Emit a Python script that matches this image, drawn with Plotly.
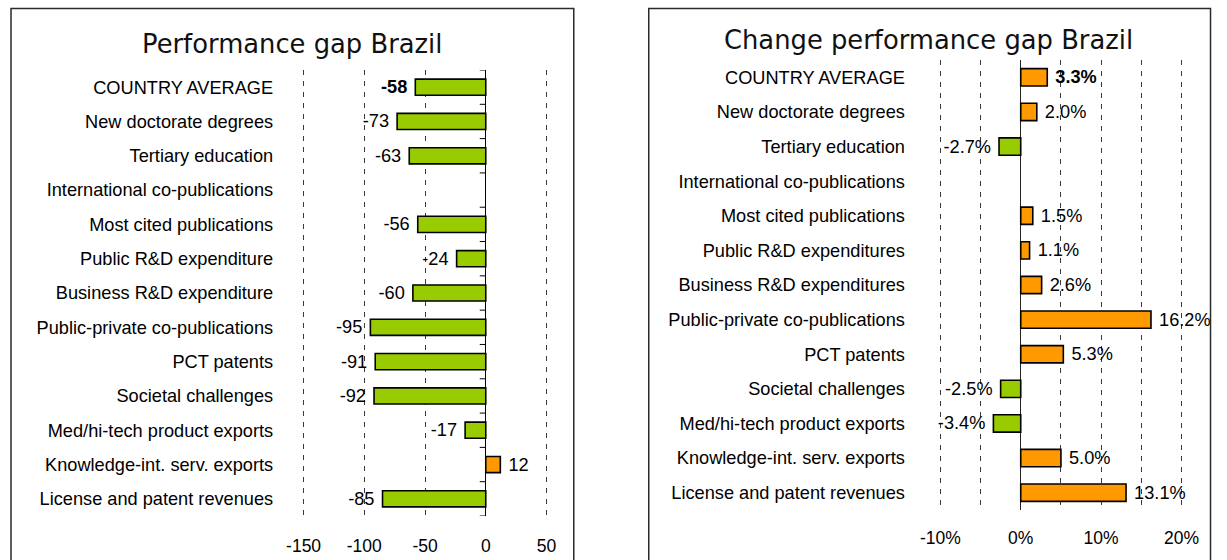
import plotly.graph_objects as go

# ---------------- data ----------------
cats_left = ["COUNTRY AVERAGE", "New doctorate degrees", "Tertiary education",
             "International co-publications", "Most cited publications",
             "Public R&D expenditure", "Business R&D expenditure",
             "Public-private co-publications", "PCT patents", "Societal challenges",
             "Med/hi-tech product exports", "Knowledge-int. serv. exports",
             "License and patent revenues"]
gap_values = [-58, -73, -63, None, -56, -24, -60, -95, -91, -92, -17, 12, -85]

cats_right = ["COUNTRY AVERAGE", "New doctorate degrees", "Tertiary education",
              "International co-publications", "Most cited publications",
              "Public R&D expenditures", "Business R&D expenditures",
              "Public-private co-publications", "PCT patents", "Societal challenges",
              "Med/hi-tech product exports", "Knowledge-int. serv. exports",
              "License and patent revenues"]
change_values = [3.3, 2.0, -2.7, None, 1.5, 1.1, 2.6, 16.2, 5.3, -2.5, -3.4, 5.0, 13.1]

left_tickvals = [-150, -100, -50, 0, 50]
left_ticktext = ["-150", "-100", "-50", "0", "50"]
right_tickvals = [-10, -5, 0, 5, 10, 15, 20]
right_ticktext = ["-10%", "", "0%", "", "10%", "", "20%"]

# ---------------- style ----------------
GREEN = "#99CC00"
ORANGE = "#FF9900"
FONT = "Liberation Sans"
GRID = "#3a3a3a"
NB = "\u00a0"

W, H = 1227, 560
SX = 0.9735              # horizontal squeeze observed in the capture
OX = 17.0


def px_x(ref):
    return (ref - OX) / SX / W


def px_y(ref):
    return 1 - ref / H


FS_LABEL = 18.2
FS_TICK = 17.5
FS_TITLE = 25.8


def colors(vals):
    return [ORANGE if (v is not None and v > 0) else GREEN for v in vals]


def pad(s, v):
    return (NB + s) if v > 0 else (s + NB)


def make_text(vals, fmt):
    out = []
    for i, v in enumerate(vals):
        if v is None:
            out.append("")
        else:
            s = fmt(v)
            s = f"<b>{s}</b>" if i == 0 else s
            out.append(pad(s, v))
    return out


fig = go.Figure()
fig.add_trace(go.Bar(
    x=gap_values, y=cats_left, orientation="h", xaxis="x", yaxis="y",
    marker=dict(color=colors(gap_values), line=dict(color="black", width=1.6)),
    width=0.47, text=make_text(gap_values, lambda v: f"{v:d}"), textposition="outside",
    constraintext="none", cliponaxis=False,
    textfont=dict(family=FONT, size=FS_LABEL, color="black"), showlegend=False,
    hoverinfo="x+y"))
fig.add_trace(go.Bar(
    x=change_values, y=cats_right, orientation="h", xaxis="x2", yaxis="y2",
    marker=dict(color=colors(change_values), line=dict(color="black", width=1.6)),
    width=0.5, text=make_text(change_values, lambda v: f"{v:.1f}%"), textposition="outside",
    constraintext="none", cliponaxis=False,
    textfont=dict(family=FONT, size=FS_LABEL, color="black"), showlegend=False,
    hoverinfo="x+y"))

ycommon = dict(showline=False, ticks="", showgrid=False, zeroline=False, type="category",
               range=[12.5, -0.5], tickfont=dict(family=FONT, size=FS_LABEL, color="black"))
xcommon = dict(showline=False, ticks="", ticklen=0, tickmode="array",
               showgrid=True, gridcolor=GRID, gridwidth=1, griddash="5px,6px",
               zeroline=True, zerolinewidth=1.2,
               tickfont=dict(family=FONT, size=FS_TICK, color="black"))

fig.update_layout(
    width=W, height=H, margin=dict(l=0, r=0, t=0, b=0),
    paper_bgcolor="white", plot_bgcolor="white",
    xaxis=dict(domain=[px_x(300.27), px_x(548.13)], anchor="y", range=[-152, 52],
               tickvals=left_tickvals, ticktext=left_ticktext, ticklabelstandoff=17,
               zerolinecolor="black", **xcommon),
    yaxis=dict(domain=[px_y(516), px_y(70)], anchor="x", ticklabelstandoff=27, **ycommon),
    xaxis2=dict(domain=[px_x(937.3), px_x(1183.4)], anchor="y2", range=[-10.3, 20.3],
                tickvals=right_tickvals, ticktext=right_ticktext, ticklabelstandoff=15,
                zerolinecolor="#222222", **xcommon),
    yaxis2=dict(domain=[px_y(510), px_y(60)], anchor="x2", ticklabelstandoff=32, **ycommon),
)

shapes = []
# panel frames
for x0, x1 in [(10, 573), (648, 1210)]:
    shapes.append(dict(type="rect", xref="paper", yref="paper",
                       x0=px_x(x0), x1=px_x(x1), y0=-0.05, y1=px_y(8.5),
                       line=dict(color="#2a2a2a", width=1.5), fillcolor="rgba(0,0,0,0)"))
# small category-boundary ticks on the left chart's zero axis
for i in range(len(cats_left) + 1):
    shapes.append(dict(type="line", xref="x", yref="y", xsizemode="pixel", xanchor=0,
                       x0=-6, x1=0, y0=i - 0.5, y1=i - 0.5,
                       line=dict(color="black", width=1)))
fig.update_layout(shapes=shapes)

fig.add_annotation(text="Performance gap Brazil", xref="paper", yref="paper",
                   x=px_x(291.5), y=px_y(44), xanchor="center", yanchor="middle",
                   showarrow=False, font=dict(family="DejaVu Sans", size=FS_TITLE, color="#111111"))
fig.add_annotation(text="Change performance gap Brazil", xref="paper", yref="paper",
                   x=px_x(928), y=px_y(40), xanchor="center", yanchor="middle",
                   showarrow=False, font=dict(family="DejaVu Sans", size=FS_TITLE, color="#111111"))

fig.write_html(
    "out.html",
    config={"displayModeBar": False},
    post_script="document.body.style.margin='0';"
                "document.body.style.overflow='hidden';"
                "document.documentElement.style.overflow='hidden';",
)
